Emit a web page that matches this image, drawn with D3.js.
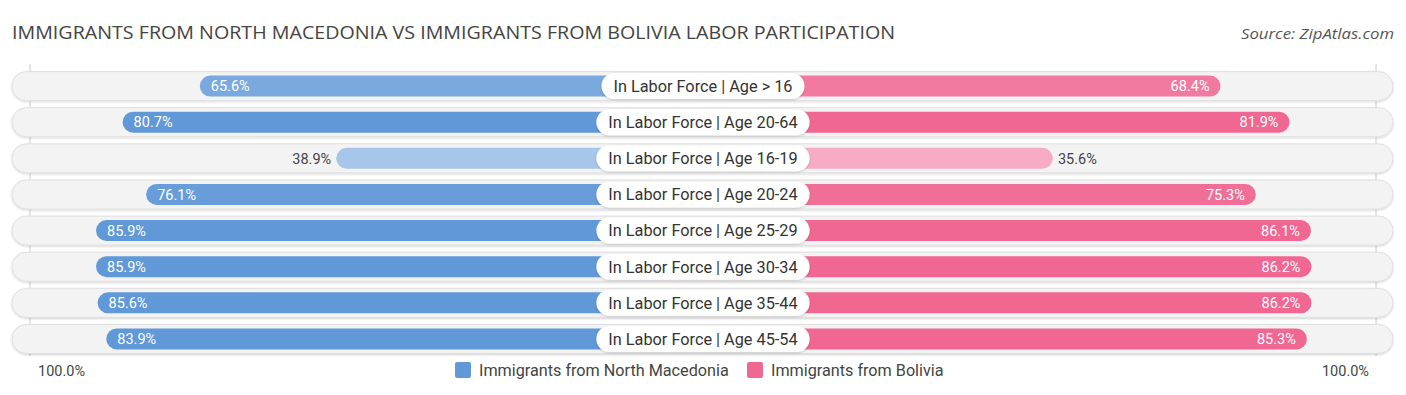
<!DOCTYPE html>
<html>
<head>
<meta charset="utf-8">
<script src="https://cdn.jsdelivr.net/npm/d3@7"></script>
<style>
  body { margin: 0; background: #fff; }
  svg { display: block; font-family: Roboto, "Open Sans", sans-serif; }
</style>
</head>
<body>
<svg id="chart" width="1406" height="395"></svg>
<script>
// data
const categories = [
  "In Labor Force | Age > 16",
  "In Labor Force | Age 20-64",
  "In Labor Force | Age 16-19",
  "In Labor Force | Age 20-24",
  "In Labor Force | Age 25-29",
  "In Labor Force | Age 30-34",
  "In Labor Force | Age 35-44",
  "In Labor Force | Age 45-54"
];
const macedonia = [65.6, 80.7, 38.9, 76.1, 85.9, 85.9, 85.6, 83.9];
const bolivia = [68.4, 81.9, 35.6, 75.3, 86.1, 86.2, 86.2, 85.3];
const seriesNames = ["Immigrants from North Macedonia", "Immigrants from Bolivia"];
const axisLabels = ["100.0%", "100.0%"];

const svg = d3.select("#chart");
const cx = 703;

// title
svg.append("text")
  .attr("x", 12).attr("y", 39)
  .attr("font-family", "'Open Sans', sans-serif")
  .attr("font-size", 17.5)
  .attr("fill", "#444")
  .attr("textLength", 883)
  .attr("lengthAdjust", "spacingAndGlyphs")
  .text("IMMIGRANTS FROM NORTH MACEDONIA VS IMMIGRANTS FROM BOLIVIA LABOR PARTICIPATION");

svg.append("text")
  .attr("x", 1394).attr("y", 39)
  .attr("text-anchor", "end")
  .attr("font-family", "'Open Sans', sans-serif")
  .attr("font-size", 15)
  .attr("font-style", "italic")
  .attr("fill", "#555")
  .attr("textLength", 153)
  .attr("lengthAdjust", "spacingAndGlyphs")
  .text("Source: ZipAtlas.com");

// scales
const y = d3.scaleBand()
  .domain(categories)
  .range([68, 357])
  .paddingInner(0);
const half = d3.scaleLinear().domain([0, 100]).range([168, 679]);

const blueCol = v => d3.interpolateRgb("#adcaec", "#6199d8")(Math.max(0, Math.min(1, (v - 35) / 45)));
const pinkCol = v => d3.interpolateRgb("#f7adc6", "#f06792")(Math.max(0, Math.min(1, (v - 35) / 45)));

const defs = svg.append("defs");
const f = defs.append("filter").attr("id", "sh").attr("x", "-5%").attr("y", "-30%").attr("width", "110%").attr("height", "160%");
f.append("feDropShadow").attr("dx", 0).attr("dy", 1).attr("stdDeviation", 1).attr("flood-color", "#000").attr("flood-opacity", 0.18);

// gridlines
[cx - half(100) + 6, cx + half(100) - 6].forEach(x => {
  svg.append("line")
    .attr("x1", x).attr("x2", x)
    .attr("y1", 64).attr("y2", 356)
    .attr("stroke", "#ccc").attr("stroke-width", 1);
});

const rows = svg.selectAll(".row")
  .data(categories)
  .join("g")
  .attr("class", "row")
  .attr("transform", d => `translate(0,${y(d) + y.bandwidth() / 2})`);

// track
rows.append("rect")
  .attr("x", 12).attr("y", -14.5)
  .attr("width", 1381).attr("height", 29)
  .attr("rx", 14.5)
  .attr("fill", "#f3f3f3")
  .attr("stroke", "#e0e0e0")
  .attr("filter", "url(#sh)");

// left bars
rows.append("rect")
  .attr("x", (d, i) => cx - half(macedonia[i]))
  .attr("y", -10.5)
  .attr("width", (d, i) => half(macedonia[i]))
  .attr("height", 21)
  .attr("rx", 10.5)
  .attr("fill", (d, i) => blueCol(macedonia[i]));

// right bars
rows.append("rect")
  .attr("x", cx)
  .attr("y", -10.5)
  .attr("width", (d, i) => half(bolivia[i]))
  .attr("height", 21)
  .attr("rx", 10.5)
  .attr("fill", (d, i) => pinkCol(bolivia[i]));

// value labels
rows.append("text")
  .attr("x", (d, i) => macedonia[i] > 50 ? cx - half(macedonia[i]) + 11 : cx - half(macedonia[i]) - 5)
  .attr("text-anchor", (d, i) => macedonia[i] > 50 ? "start" : "end")
  .attr("dy", "0.36em")
  .attr("font-size", 14.5)
  .attr("fill", (d, i) => macedonia[i] > 50 ? "#fff" : "#444")
  .text((d, i) => macedonia[i].toFixed(1) + "%");

rows.append("text")
  .attr("x", (d, i) => bolivia[i] > 50 ? cx + half(bolivia[i]) - 11 : cx + half(bolivia[i]) + 5)
  .attr("text-anchor", (d, i) => bolivia[i] > 50 ? "end" : "start")
  .attr("dy", "0.36em")
  .attr("font-size", 14.5)
  .attr("fill", (d, i) => bolivia[i] > 50 ? "#fff" : "#444")
  .text((d, i) => bolivia[i].toFixed(1) + "%");

// center labels
rows.each(function (d) {
  const g = d3.select(this);
  const t = g.append("text")
    .attr("x", cx).attr("dy", "0.36em")
    .attr("text-anchor", "middle")
    .attr("font-size", 16.3)
    .attr("fill", "#333")
    .text(d);
  const w = t.node().getComputedTextLength() + 24;
  g.insert("rect", "text")
    .attr("x", cx - w / 2).attr("y", -13)
    .attr("width", w).attr("height", 26)
    .attr("rx", 13)
    .attr("fill", "#fff")
    .attr("filter", "url(#sh)");
});

// bottom axis labels
svg.append("text")
  .attr("x", 38).attr("y", 376)
  .attr("font-size", 14.5).attr("fill", "#444")
  .text(axisLabels[0]);
svg.append("text")
  .attr("x", 1369).attr("y", 376)
  .attr("text-anchor", "end")
  .attr("font-size", 14.5).attr("fill", "#444")
  .text(axisLabels[1]);

// legend
const legend = svg.append("g");
const items = [
  { name: seriesNames[0], color: "#6199d8", x: 455 },
  { name: seriesNames[1], color: "#f06792", x: 747 }
];
items.forEach(it => {
  legend.append("rect")
    .attr("x", it.x).attr("y", 362)
    .attr("width", 16).attr("height", 16)
    .attr("rx", 2)
    .attr("fill", it.color);
  legend.append("text")
    .attr("x", it.x + 24).attr("y", 376)
    .attr("font-size", 16.2)
    .attr("fill", "#444")
    .text(it.name);
});
</script>
</body>
</html>
